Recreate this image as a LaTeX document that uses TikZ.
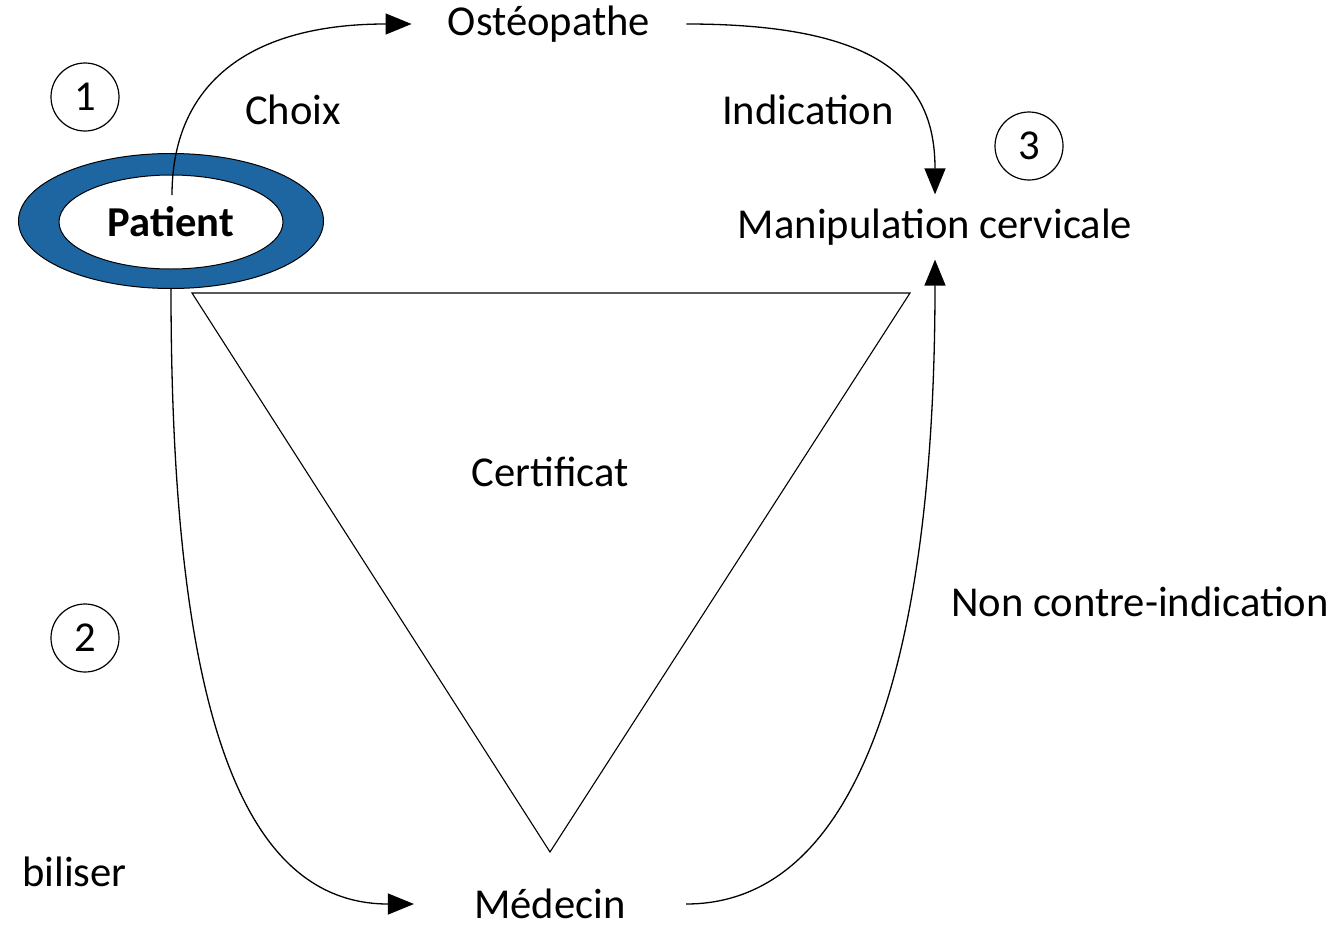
\documentclass[tikz,border=0pt]{standalone}
\usepackage{fontspec}
\setmainfont{Carlito}
\usetikzlibrary{shapes.geometric,arrows.meta}
\newlength{\du}
\setlength{\du}{0.5pt}
\definecolor{dialinecolor}{rgb}{0.000000, 0.000000, 0.000000}
\definecolor{ringblue}{rgb}{0.113725, 0.400000, 0.631373}
\tikzset{
  lbl/.style={inner sep=0pt, font=\fontsize{21.3}{25}\selectfont},
  num/.style={circle, draw=dialinecolor, line width=1.2\du, minimum size=68\du, inner sep=0pt, font=\fontsize{21.3}{25}\selectfont},
  flow/.style={draw=dialinecolor, line width=1.3\du, -{Triangle[length=13pt,width=10.5pt]}},
}

\begin{document}
\begin{tikzpicture}
\pgftransformxscale{1.000000}
\pgftransformyscale{-1.000000}
\useasboundingbox (0\du,0\du) rectangle (1337\du,926\du);
% patient ring
\node[ellipse, draw=dialinecolor, fill=ringblue, line width=1\du, minimum width=305\du, minimum height=135\du] (ring) at (171\du,221\du) {};
\node[ellipse, draw=dialinecolor, fill=white, line width=1\du, minimum width=224\du, minimum height=94\du, inner sep=0pt, font=\bfseries\fontsize{21.3}{25}\selectfont] (patient) at (171\du,222\du) {Patient};
\coordinate (choixstart) at (172\du,195\du);
% labels
\node[lbl, inner xsep=36\du] (osteo) at (549\du,24\du) {Ostéopathe};
\node[lbl, inner ysep=14\du] (manip) at (935\du,227\du) {Manipulation cervicale};
\node[lbl, inner xsep=60\du] (medecin) at (550\du,904\du) {Médecin};
\node[lbl] (choix) at (293\du,110\du) {Choix};
\node[lbl] (indic) at (808\du,110\du) {Indication};
\node[lbl] (certif) at (550\du,472\du) {Certificat};
\node[lbl] (noncontre) at (1140\du,602\du) {Non contre-indication};
\node[lbl, anchor=east] (biliser) at (127\du,872\du) {biliser};
% numbers
\node[num] (un) at (85\du,97\du) {1};
\node[num] (deux) at (85\du,638\du) {2};
\node[num] (trois) at (1029\du,146\du) {3};
% triangle
\pgfsetlinewidth{1.1\du}
\draw (192\du,293\du)--(910\du,293\du)--(550\du,852\du)--cycle;
% arrows
\draw[flow] (choixstart) .. controls +(0pt,-52.5pt) and +(-85pt,0pt) .. (osteo.west);
\draw[flow] (osteo.east) .. controls +(100pt,0pt) and +(0pt,-55pt) .. (manip.north);
\draw[flow] (ring.south) .. controls +(0pt,200pt) and +(-90pt,0pt) .. (medecin.west);
\draw[flow] (medecin.east) .. controls +(90pt,0pt) and +(0pt,190pt) .. (manip.south);
\end{tikzpicture}
\end{document}
